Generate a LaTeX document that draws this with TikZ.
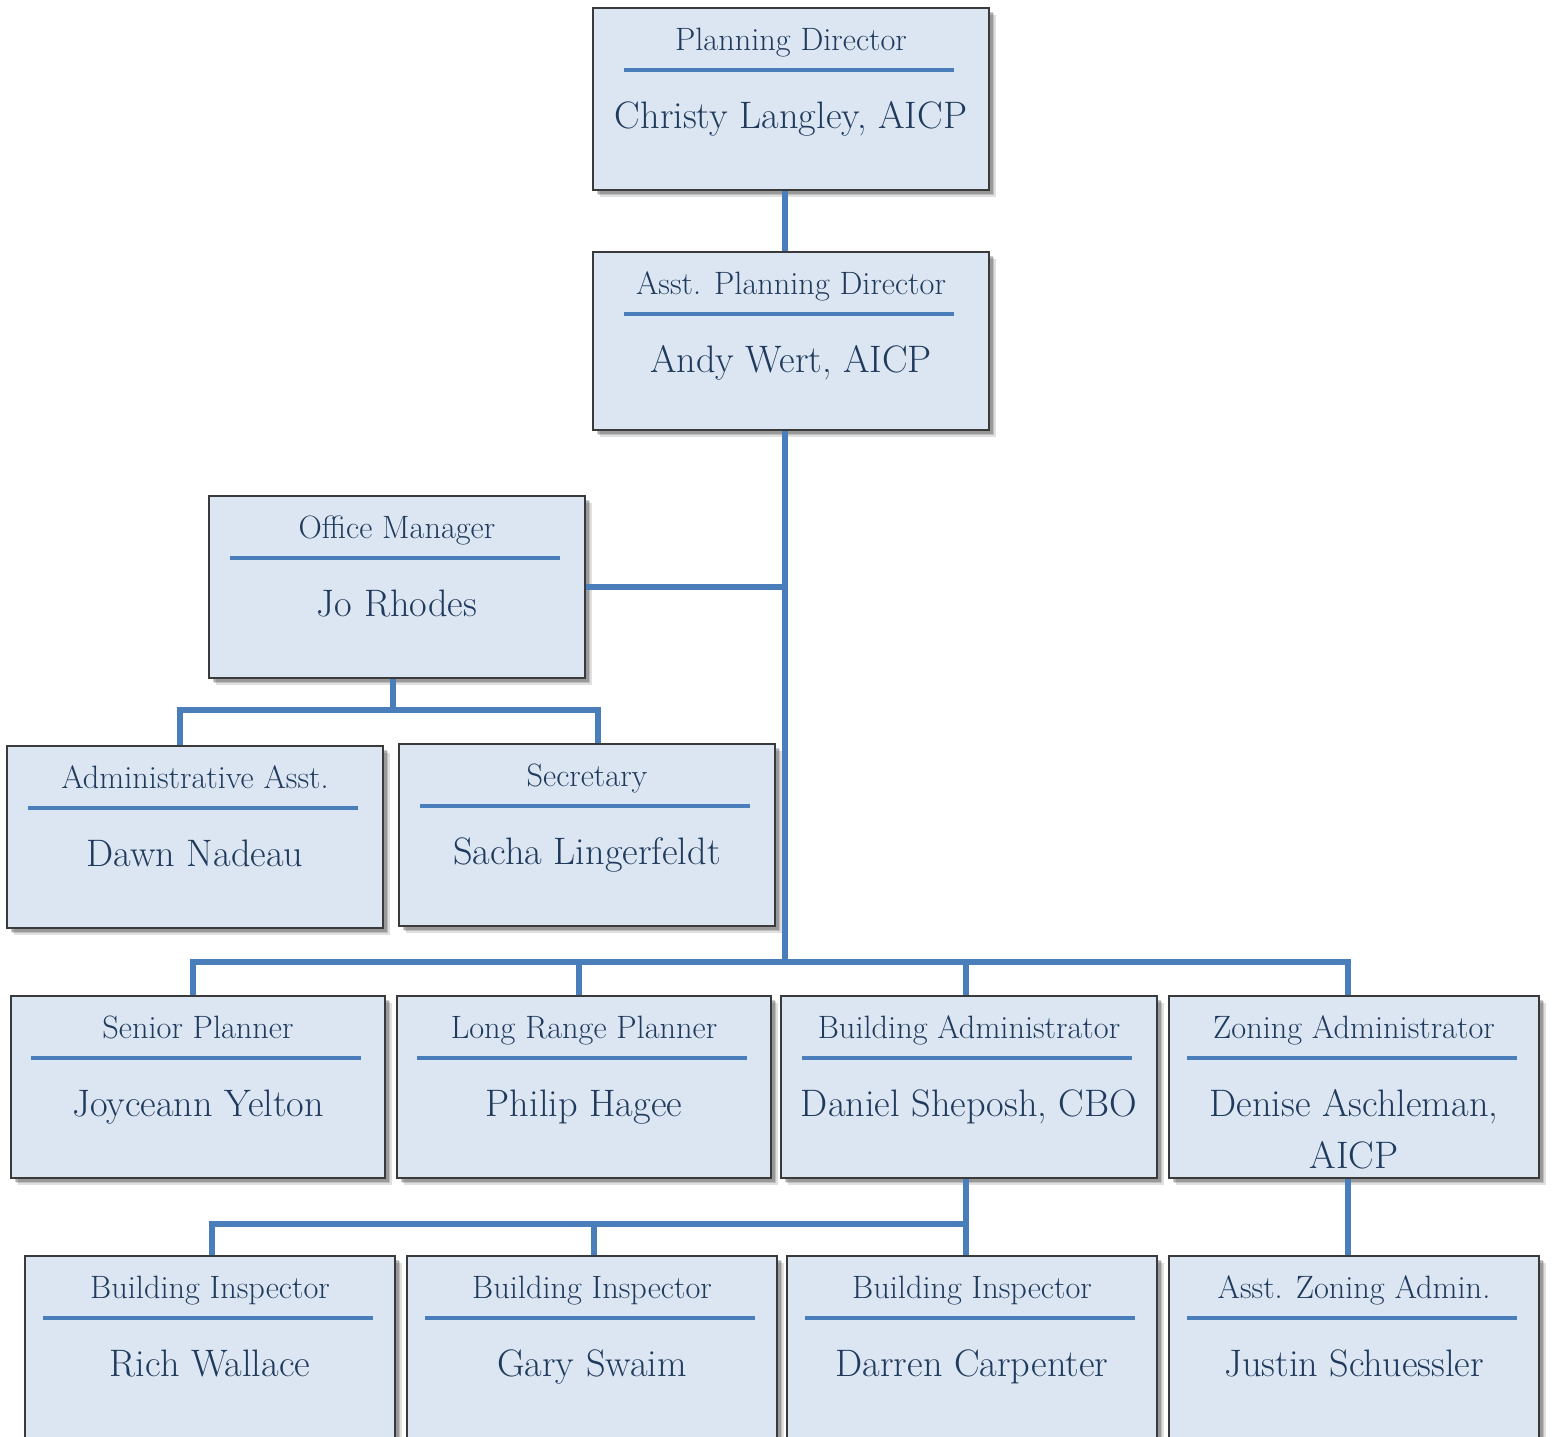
\documentclass[tikz,border=0pt]{standalone}
\usetikzlibrary{shadows,calc}
\definecolor{boxfill}{HTML}{DCE6F2}
\definecolor{boxline}{HTML}{3A3A3A}
\definecolor{accent}{HTML}{4A7EBB}
\definecolor{txt}{HTML}{1F3A5C}
\tikzset{
  x=0.02cm, y=-0.02cm,
  orgbox/.style={draw=boxline, line width=0.8pt, fill=boxfill, rectangle, inner sep=0pt,
     drop shadow={shadow xshift=4pt, shadow yshift=-4pt, opacity=0.12, fill=black},
     drop shadow={shadow xshift=3pt, shadow yshift=-3pt, opacity=0.15, fill=black},
     drop shadow={shadow xshift=2pt, shadow yshift=-2pt, opacity=0.2, fill=black}},
  titletext/.style={anchor=base, inner sep=0pt, text=txt, font=\fontsize{18.4}{22}\selectfont},
  nametext/.style={anchor=base, inner sep=0pt, text=txt, align=center, font=\fontsize{21.8}{29.5}\selectfont},
  sep/.style={draw=accent, line width=2.3pt},
  conn/.style={draw=accent, line width=2.9pt, line join=miter}
}
% name x1 y1 x2 y2 title person baseline-offset-of-last-name-line
\newcommand\orgbox[8]{%
  \node[orgbox, minimum width={(#4-#2)*0.02cm}, minimum height={(#5-#3)*0.02cm}] (#1) at ({(#2+#4)/2},{(#3+#5)/2}) {};
  \node[titletext] (#1-t) at ({(#2+#4)/2},{#3+42}) {#6};
  \draw[sep] ({(#2+#4)/2-167},{#3+62}) -- ({(#2+#4)/2+163},{#3+62});
  \node[nametext] (#1-n) at ({(#2+#4)/2},{#3+#8}) {#7};
}
\begin{document}
\begin{tikzpicture}
\useasboundingbox (0,0) rectangle (1553,1437);
\clip (0,0) rectangle (1553,1437);
% drop/bus coordinates
\coordinate (tr) at (785,0);
\coordinate (omb) at (393,710);
\coordinate (aaD) at (180,0);
\coordinate (secD) at (598,0);
\coordinate (busy) at (0,962);
\coordinate (spD) at (193,0);
\coordinate (lrpD) at (579,0);
\coordinate (baD) at (966,0);
\coordinate (zaD) at (1348,0);
\coordinate (biy) at (0,1224);
\coordinate (bi1D) at (212,0);
\coordinate (bi2D) at (594,0);
\orgbox{pd}{593}{8}{989}{190}{Planning Director}{Christy Langley, AICP}{120}
\orgbox{apd}{593}{252}{989}{430}{Asst. Planning Director}{Andy Wert, AICP}{120}
\orgbox{om}{209}{496}{585}{678}{Office Manager}{Jo Rhodes}{120}
\orgbox{aa}{7}{746}{383}{928}{Administrative Asst.}{Dawn Nadeau}{120}
\orgbox{sec}{399}{744}{775}{926}{Secretary}{Sacha Lingerfeldt}{120}
\orgbox{sp}{11}{996}{385}{1178}{Senior Planner}{Joyceann Yelton}{120}
\orgbox{lrp}{397}{996}{771}{1178}{Long Range Planner}{Philip Hagee}{120}
\orgbox{ba}{781}{996}{1157}{1178}{Building Administrator}{Daniel Sheposh, CBO}{120}
\orgbox{za}{1169}{996}{1539}{1178}{Zoning Administrator}{Denise Aschleman,\\AICP}{172}
\orgbox{bi1}{25}{1256}{395}{1500}{Building Inspector}{Rich Wallace}{120}
\orgbox{bi2}{407}{1256}{777}{1500}{Building Inspector}{Gary Swaim}{120}
\orgbox{bi3}{787}{1256}{1157}{1500}{Building Inspector}{Darren Carpenter}{120}
\orgbox{aza}{1169}{1256}{1539}{1500}{Asst. Zoning Admin.}{Justin Schuessler}{120}
\draw[conn] (pd.south -| tr) -- (apd.north -| tr);
\draw[conn] (apd.south -| tr) -- (tr |- busy);
\draw[conn] (om.east) -- (om.east -| tr);
\draw[conn] (om.south -| omb) -- (omb);
\draw[conn] (aa.north -| aaD) |- (omb) -| (sec.north -| secD);
\draw[conn] (sp.north -| spD) |- (tr |- busy) -| (za.north -| zaD);
\draw[conn] (lrp.north -| lrpD) -- (lrpD |- busy);
\draw[conn] (ba.north -| baD) -- (baD |- busy);
\draw[conn] (ba.south -| baD) -- (bi3.north -| baD);
\draw[conn] (bi1.north -| bi1D) |- (baD |- biy);
\draw[conn] (bi2.north -| bi2D) -- (bi2D |- biy);
\draw[conn] (za.south -| zaD) -- (aza.north -| zaD);
\end{tikzpicture}
\end{document}
